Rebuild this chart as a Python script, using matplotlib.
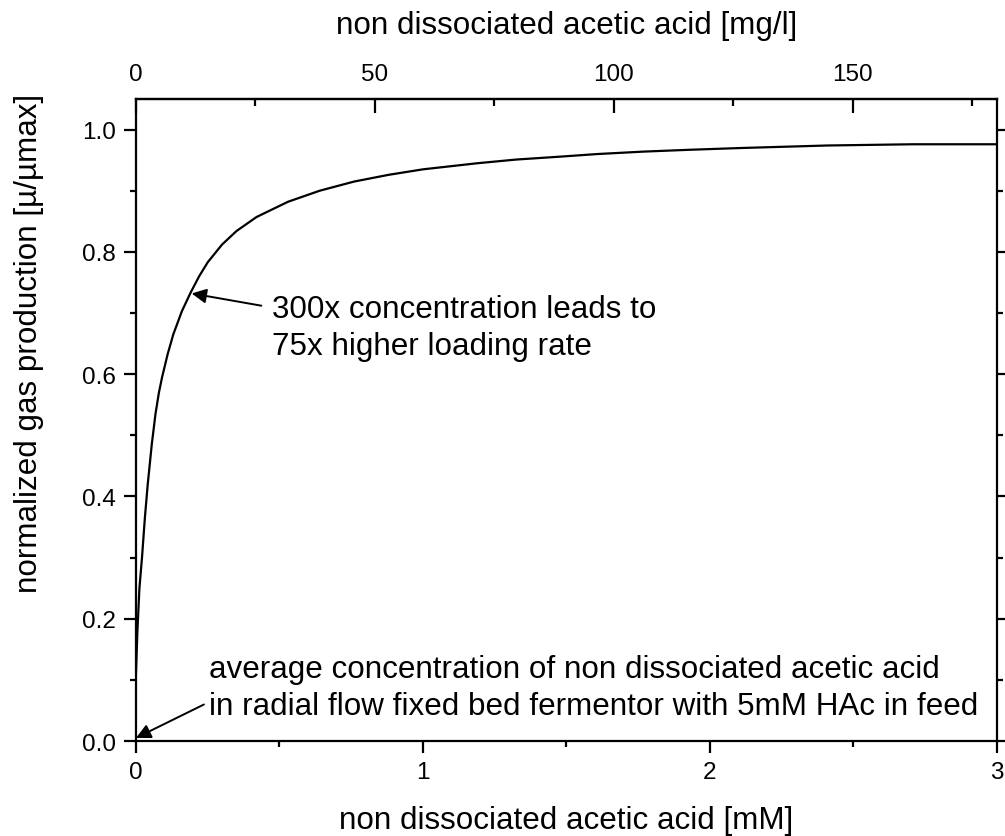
import matplotlib.pyplot as plt
from matplotlib.ticker import MultipleLocator, FixedLocator

plt.rcParams['font.family'] = ['Liberation Sans', 'DejaVu Sans']

# normalized gas production vs. non dissociated acetic acid (mM)
hac_mM = [0, 0.005, 0.012, 0.021, 0.031, 0.041, 0.055, 0.068, 0.08, 0.091,
          0.11, 0.13, 0.16, 0.19, 0.22, 0.25, 0.30, 0.35, 0.42, 0.53,
          0.64, 0.76, 0.88, 1.0, 1.19, 1.325, 1.486, 1.607, 1.769,
          1.93, 2.116, 2.41, 2.707, 3.0]
mu_rel = [0.11, 0.18, 0.25, 0.30, 0.365, 0.42, 0.485, 0.535, 0.57, 0.595,
          0.632, 0.665, 0.703, 0.733, 0.760, 0.783, 0.812, 0.834, 0.857, 0.882,
          0.900, 0.915, 0.926, 0.935, 0.945, 0.951, 0.956, 0.960, 0.964,
          0.967, 0.970, 0.974, 0.976, 0.976]

# top axis ticks in mg/l
mgl_major = [0, 50, 100, 150]
mgl_minor = [25, 75, 125, 175]

molarMass = 60.05  # g/mol acetic acid -> mM to mg/l

def mM2mgl(x):
    return x * molarMass

def mgl2mM(x):
    return x / molarMass

fig = plt.figure(figsize=(10.05, 8.37), dpi=100)
ax = fig.add_axes([0.1353, 0.1135, 0.9920 - 0.1353, 0.8805 - 0.1135])

ax.plot(hac_mM, mu_rel, color='black', linewidth=1.6)

ax.set_xlim(0, 3)
ax.set_ylim(0, 1.05)
ax.xaxis.set_major_locator(MultipleLocator(1))
ax.xaxis.set_minor_locator(MultipleLocator(0.5))
ax.yaxis.set_major_locator(MultipleLocator(0.2))
ax.yaxis.set_minor_locator(MultipleLocator(0.1))
ax.yaxis.set_major_formatter(lambda v, pos: '%.1f' % v)

for sp in ax.spines.values():
    sp.set_linewidth(1.6)
ax.tick_params(axis='both', which='major', direction='out', length=8.5, width=1.6,
               labelsize=17.5, pad=6)
ax.tick_params(axis='both', which='minor', direction='out', length=4.5, width=1.6)
ax.tick_params(axis='y', which='both', right=True)
ax.tick_params(axis='x', which='both', top=False)

ax.set_xlabel('non dissociated acetic acid [mM]', fontsize=22.6, labelpad=16)
ax.set_ylabel('normalized gas production [µ/µmax]', fontsize=22.6)
ax.yaxis.set_label_coords(-0.107, 0.621)

# second scale on top in mg/l
top = ax.secondary_xaxis('top', functions=(mM2mgl, mgl2mM))
top.xaxis.set_major_locator(FixedLocator(mgl_major))
top.xaxis.set_minor_locator(FixedLocator(mgl_minor))
top.spines['top'].set_linewidth(1.6)
top.tick_params(which='major', direction='in', length=10, width=1.6, labelsize=17.5, pad=10)
top.tick_params(which='minor', direction='in', length=4.8, width=1.6)
top.set_xlabel('non dissociated acetic acid [mg/l]', fontsize=22.6, labelpad=22)

ax.annotate('300x concentration leads to\n75x higher loading rate',
            xy=(0.194, 0.732), xytext=(0.475, 0.676),
            fontsize=22.6, ha='left', va='center', linespacing=1.3,
            arrowprops=dict(arrowstyle='-|>', color='black', lw=1.4,
                            mutation_scale=22, shrinkA=6, shrinkB=0,
                            relpos=(0.0, 0.8)))
ax.annotate('average concentration of non dissociated acetic acid\n'
            'in radial flow fixed bed fermentor with 5mM HAc in feed',
            xy=(0.0, 0.005), xytext=(0.255, 0.088),
            fontsize=22.6, ha='left', va='center', linespacing=1.3,
            arrowprops=dict(arrowstyle='-|>', color='black', lw=1.4,
                            mutation_scale=22, shrinkA=2, shrinkB=0,
                            relpos=(0.0, 0.28)))

fig.savefig('out.png', dpi=100)
